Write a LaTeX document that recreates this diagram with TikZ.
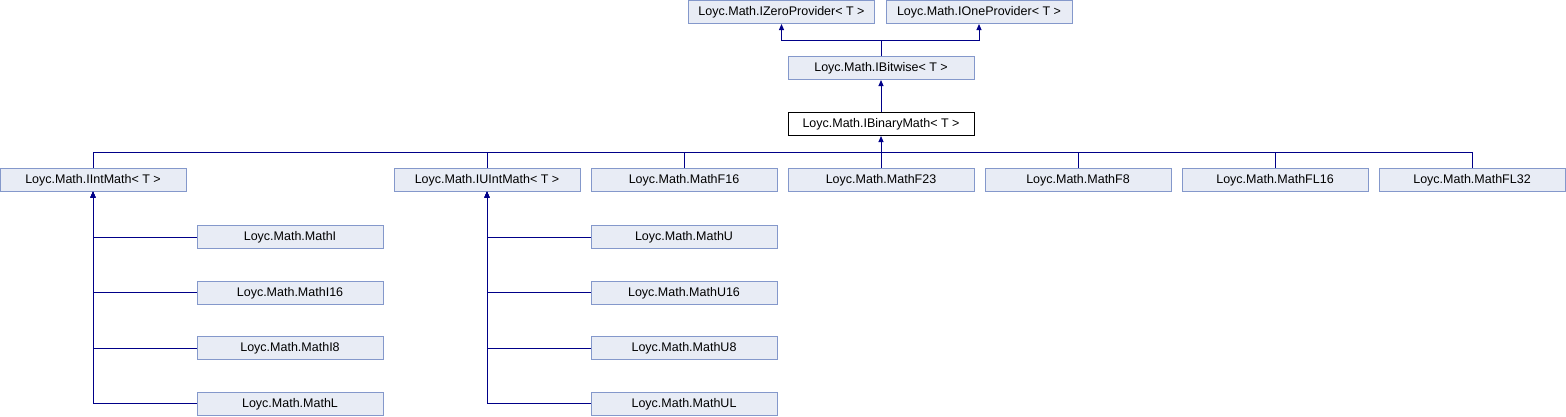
\documentclass[tikz,border=0pt]{standalone}
\usepackage{fontspec}
\setmainfont{Liberation Sans}
\usepackage{tikz}
\usetikzlibrary{arrows.meta,positioning}
\definecolor{dxEdge}{HTML}{000088}
\definecolor{dxFill}{HTML}{E8ECF5}
\definecolor{dxLine}{HTML}{8498CB}
\tikzset{
    dxBox/.style={
        rectangle,
        draw=dxLine,
        fill=dxFill,
        line width=1pt,
        minimum width=186pt,
        minimum height=23pt,
        inner sep=0pt,
        font=\fontsize{12.5}{14}\selectfont,
        text height=9.5pt,
        text depth=2pt
    },
    % the class this graph is about
    dxFocus/.style={dxBox, fill=white, draw=black},
    % Arrows
    dxInherit/.style={-{Triangle[width=5pt,length=6pt]}, line width=1pt, draw=dxEdge},
    dxLink/.style={line width=1pt, draw=dxEdge}
}
\begin{document}
\begin{tikzpicture}[x=1pt,y=-1pt]
\useasboundingbox (0,0) rectangle (1566,416);
% base interfaces
\node[dxBox] (zero) at (781.5,12) {Loyc.Math.IZeroProvider< T >};
\node[dxBox] (one) at (979,12) {Loyc.Math.IOneProvider< T >};
\node[dxBox] (bitwise) at (881,68) {Loyc.Math.IBitwise< T >};
\node[dxFocus] (binary) at (881,124) {Loyc.Math.IBinaryMath< T >};
% derived
\node[dxBox] (imath) at (93,179.5) {Loyc.Math.IIntMath< T >};
\node[dxBox] (uimath) at (487,179.5) {Loyc.Math.IUIntMath< T >};
\node[dxBox] (f16) at (684,179.5) {Loyc.Math.MathF16};
\node[dxBox] (f23) at (881,179.5) {Loyc.Math.MathF23};
\node[dxBox] (f8) at (1078,179.5) {Loyc.Math.MathF8};
\node[dxBox] (fl16) at (1275,179.5) {Loyc.Math.MathFL16};
\node[dxBox] (fl32) at (1472,179.5) {Loyc.Math.MathFL32};
\node[dxBox] (mi) at (290,237) {Loyc.Math.MathI};
\node[dxBox] (mi16) at (290,292.5) {Loyc.Math.MathI16};
\node[dxBox] (mi8) at (290,348) {Loyc.Math.MathI8};
\node[dxBox] (ml) at (290,403.5) {Loyc.Math.MathL};
\node[dxBox] (mu) at (684,237) {Loyc.Math.MathU};
\node[dxBox] (mu16) at (684,292.5) {Loyc.Math.MathU16};
\node[dxBox] (mu8) at (684,348) {Loyc.Math.MathU8};
\node[dxBox] (mul) at (684,403.5) {Loyc.Math.MathUL};
\coordinate (topbus) at (881,40);
\coordinate (midbus) at (881,152);
% edges
\draw[dxLink] (bitwise.north) -- (topbus);
\draw[dxInherit] (topbus) -| (zero.south);
\draw[dxInherit] (topbus) -| (one.south);
\draw[dxInherit] (binary.north) -- (bitwise.south);
\foreach \n in {imath,uimath,f16,f8,fl16,fl32}
    \draw[dxLink] (\n.north) |- (midbus);
\draw[dxInherit] (f23.north) -- (binary.south);
\foreach \n in {mi,mi16,mi8,ml}
    \draw[dxInherit] (\n.west) -| (imath.south);
\foreach \n in {mu,mu16,mu8,mul}
    \draw[dxInherit] (\n.west) -| (uimath.south);
\end{tikzpicture}
\end{document}
